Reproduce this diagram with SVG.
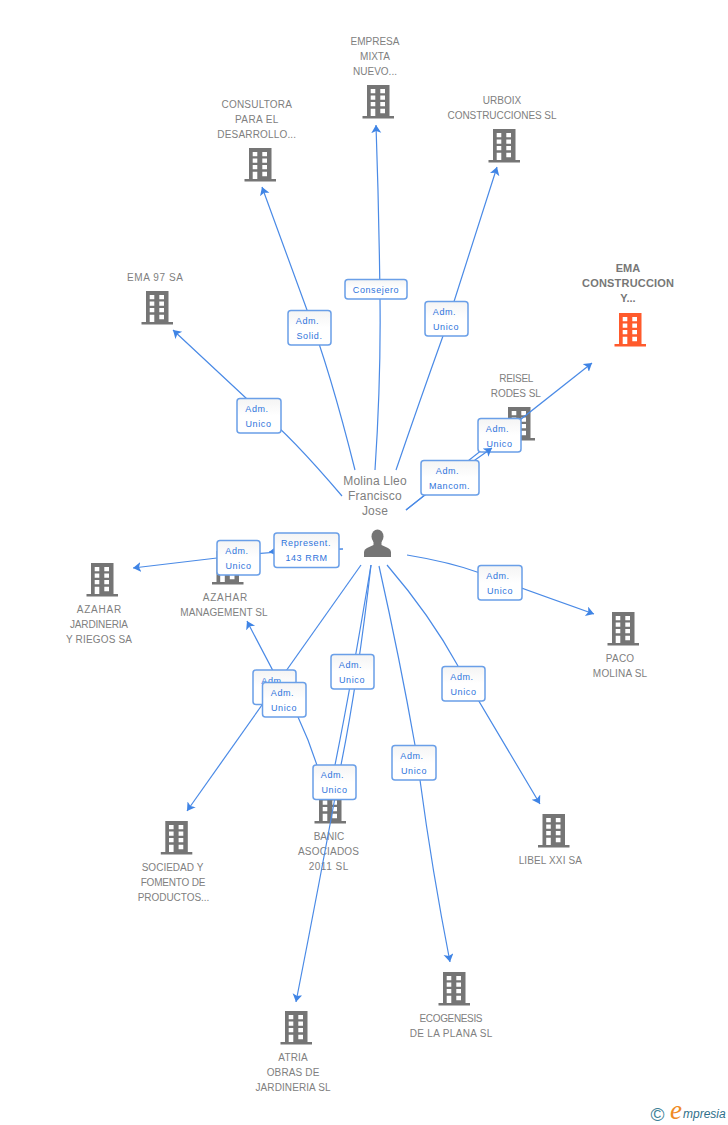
<svg xmlns="http://www.w3.org/2000/svg" width="728" height="1125" viewBox="0 0 728 1125">
<style>
text{font-family:"Liberation Sans",Arial,sans-serif}
.n{font-size:10px;fill:#808080;text-anchor:middle}
.p{font-size:12px;fill:#808080;text-anchor:middle;letter-spacing:.2px}
.b{font-size:11px;font-weight:bold;fill:#777;text-anchor:middle}
.e{fill:none;stroke:#4a8ae6;stroke-width:1.2;marker-end:url(#a)}
.l rect{fill:url(#g);stroke:#6a9fe8;stroke-width:1.5}
.l text{font-size:9px;fill:#2f74dc;text-anchor:middle;letter-spacing:.6px}
</style>
<defs>
<linearGradient id="g" x1="0" y1="0" x2="0" y2="1"><stop offset="0" stop-color="#f4f4f4"/><stop offset=".5" stop-color="#fff"/><stop offset="1" stop-color="#fff"/></linearGradient>
<marker id="a" markerUnits="userSpaceOnUse" markerWidth="12" markerHeight="12" refX="8" refY="5" orient="auto"><path d="M0 0L8 5L0 10L2 5Z" fill="#3f84e5"/></marker>
<symbol id="bld" overflow="visible"><path fill-rule="evenodd" d="M0 0H22.500V31H27V33.500H-4.500V31H0ZM3.700 4V8.300H8.300V4ZM13.300 4V8.300H18V4ZM3.700 10.500V14.700H8.300V10.500ZM13.300 10.500V14.700H18V10.500ZM3.700 17V21.300H8.300V17ZM13.300 17V21.300H18V17ZM3.700 23.800V31H8.300V23.800ZM13.300 23.800V28.300H18V23.800Z"/></symbol>
</defs>
<g id="node-empresa" fill="#757575"><use href="#bld" x="367" y="85"/><text class="n" x="375" y="45">EMPRESA</text><text class="n" x="375" y="60">MIXTA</text><text class="n" x="375" y="75">NUEVO...</text></g>
<g id="node-consultora" fill="#757575"><use href="#bld" x="249" y="148"/><text class="n" x="256.700" y="108" textLength="70.300">CONSULTORA</text><text class="n" x="256.700" y="123" textLength="43.300">PARA EL</text><text class="n" x="256.700" y="138" textLength="78.700">DESARROLLO...</text></g>
<g id="node-urboix" fill="#757575"><use href="#bld" x="493" y="129"/><text class="n" x="502" y="104">URBOIX</text><text class="n" x="502" y="119" textLength="109">CONSTRUCCIONES SL</text></g>
<g id="node-ema97" fill="#757575"><use href="#bld" x="146" y="291"/><text class="n" x="155" y="281" textLength="56">EMA 97 SA</text></g>
<g id="node-ema" fill="#ff5a2c"><use href="#bld" x="619" y="313"/><text class="b" x="628" y="272">EMA</text><text class="b" x="628" y="287" textLength="92">CONSTRUCCION</text><text class="b" x="628" y="302">Y...</text></g>
<g id="node-reisel" fill="#757575"><use href="#bld" x="508" y="407"/><text class="n" x="516.300" y="382" textLength="34">REISEL</text><text class="n" x="515.800" y="397" textLength="50">RODES SL</text></g>
<g id="node-jardineria" fill="#757575"><use href="#bld" x="91" y="563"/><text class="n" x="99" y="613" textLength="44.700">AZAHAR</text><text class="n" x="99" y="628" textLength="58">JARDINERIA</text><text class="n" x="99" y="643" textLength="66">Y RIEGOS SA</text></g>
<g id="node-management" fill="#757575"><use href="#bld" x="216.500" y="551"/><text class="n" x="225" y="601" textLength="44.700">AZAHAR</text><text class="n" x="224" y="616" textLength="87.300">MANAGEMENT SL</text></g>
<g id="node-paco" fill="#757575"><use href="#bld" x="612" y="612"/><text class="n" x="620" y="662" textLength="28.300">PACO</text><text class="n" x="620" y="677" textLength="54.300">MOLINA SL</text></g>
<g id="node-libel" fill="#757575"><use href="#bld" x="542.500" y="814"/><text class="n" x="550.300" y="864" textLength="63.300">LIBEL XXI SA</text></g>
<g id="node-banic" fill="#757575"><use href="#bld" x="319" y="790"/><text class="n" x="329" y="840" textLength="30.700">BANIC</text><text class="n" x="328.500" y="855" textLength="61">ASOCIADOS</text><text class="n" x="328.500" y="870" textLength="39.700">2011 SL</text></g>
<g id="node-sociedad" fill="#757575"><use href="#bld" x="165.300" y="821"/><text class="n" x="172.500" y="871" textLength="61.700">SOCIEDAD Y</text><text class="n" x="173" y="886" textLength="64.700">FOMENTO DE</text><text class="n" x="173.500" y="901" textLength="71.700">PRODUCTOS...</text></g>
<g id="node-ecogenesis" fill="#757575"><use href="#bld" x="443" y="972"/><text class="n" x="451" y="1022" textLength="63">ECOGENESIS</text><text class="n" x="451" y="1037" textLength="82.700">DE LA PLANA SL</text></g>
<g id="node-atria" fill="#757575"><use href="#bld" x="285" y="1011"/><text class="n" x="293" y="1061" textLength="29.300">ATRIA</text><text class="n" x="293" y="1076" textLength="52.700">OBRAS DE</text><text class="n" x="293" y="1091" textLength="75">JARDINERIA SL</text></g>
<g id="node-person"><ellipse cx="377.500" cy="536.500" rx="6" ry="7" fill="#757575"/><path d="M373.500 541H381.500V545L388 548Q391 549.500 391 552V557H364V552Q364 549.500 367 548L373.500 545Z" fill="#757575"/><text class="p" x="375" y="485">Molina Lleo</text><text class="p" x="375" y="500">Francisco</text><text class="p" x="375" y="515">Jose</text></g>
<g id="connectors">
<path class="e" d="M342 496Q290 435 262 413L173 330"/>
<path class="e" d="M355 470Q330 370 307 310L262 187"/>
<path class="e" d="M375 470Q381 380 380 299Q379 210 376 125"/>
<path class="e" d="M396 470Q420 400 443 336L497 167"/>
<path class="e" d="M406 510L592 363"/>
<path class="e" d="M407 555Q450 562 480 573Q540 595 594 614"/>
<path class="e" d="M387 565Q430 615 458 666L540 804"/>
<path class="e" d="M379 566Q400 660 415 745L420 780Q432 870 450 962"/>
<path class="e" d="M371 565Q358 680 341 765Q320 880 296 1002"/>
<path class="e" d="M371 565Q352 680 335 765L329 797"/>
<path class="e" d="M325 795Q316 755 298 717Q272 670 247 621"/>
<path class="e" d="M361 565L187 811"/>
<path class="e" d="M343 549Q280 550 217 558L133 568"/>
<path class="e" d="M343 549Q300 549 269 552"/>
<g class="l"><rect x="237" y="398.500" width="44" height="34.500" rx="3"/><text x="257" y="412">Adm.</text><text x="258.500" y="427">Unico</text></g>
<g class="l"><rect x="288" y="310.500" width="43" height="34.500" rx="3"/><text x="307.500" y="324">Adm.</text><text x="309.500" y="339">Solid.</text></g>
<g class="l"><rect x="345" y="279.500" width="62" height="19.500" rx="3"/><text x="376" y="293">Consejero</text></g>
<g class="l"><rect x="425" y="301.500" width="43" height="34.500" rx="3"/><text x="444.500" y="315">Adm.</text><text x="446" y="330">Unico</text></g>
<g class="l"><rect x="478" y="418.500" width="43" height="33.500" rx="3"/><text x="497.500" y="432">Adm.</text><text x="499.500" y="447">Unico</text></g>
<path class="e" d="M406 510Q440 482 475 460L492 448"/>
<g class="l"><rect x="421" y="460.500" width="58" height="34.500" rx="3"/><text x="447.500" y="474">Adm.</text><text x="449.500" y="489">Mancom.</text></g>
<g class="l"><rect x="217" y="540.500" width="43" height="34.500" rx="3"/><text x="237" y="554">Adm.</text><text x="238.500" y="569">Unico</text></g>
<g class="l"><rect x="274" y="533" width="65" height="34.500" rx="3"/><text x="306" y="546">Represent.</text><text x="306.500" y="561">143 RRM</text></g>
<g class="l"><rect x="478" y="565.500" width="44" height="34.500" rx="3"/><text x="498" y="579">Adm.</text><text x="500" y="594">Unico</text></g>
<g class="l"><rect x="442" y="666.500" width="43" height="34.500" rx="3"/><text x="462" y="680">Adm.</text><text x="463.500" y="695">Unico</text></g>
<g class="l"><rect x="392" y="745.500" width="44" height="34.500" rx="3"/><text x="412" y="759">Adm.</text><text x="414" y="774">Unico</text></g>
<g class="l"><rect x="331" y="654.500" width="43" height="34.500" rx="3"/><text x="350.500" y="668">Adm.</text><text x="352" y="683">Unico</text></g>
<g class="l"><rect x="253" y="670" width="43" height="34.500" rx="3"/><text x="273" y="684">Adm.</text></g>
<g class="l"><rect x="262.500" y="682.500" width="43.500" height="34.500" rx="3"/><text x="282.500" y="696">Adm.</text><text x="284" y="711">Unico</text></g>
<g class="l"><rect x="313" y="765" width="43" height="34.500" rx="3"/><text x="332.500" y="778">Adm.</text><text x="334.500" y="793">Unico</text></g>
</g>
<g id="logo"><text x="650.500" y="1121" font-size="19" fill="#3d7f96">©</text><text x="670" y="1119" font-size="27" font-style="italic" fill="#f08a24" style="font-family:'Liberation Serif',serif">e</text><text x="683" y="1118" font-size="12" font-style="italic" fill="#2f6f8a">mpresia</text></g>
</svg>
